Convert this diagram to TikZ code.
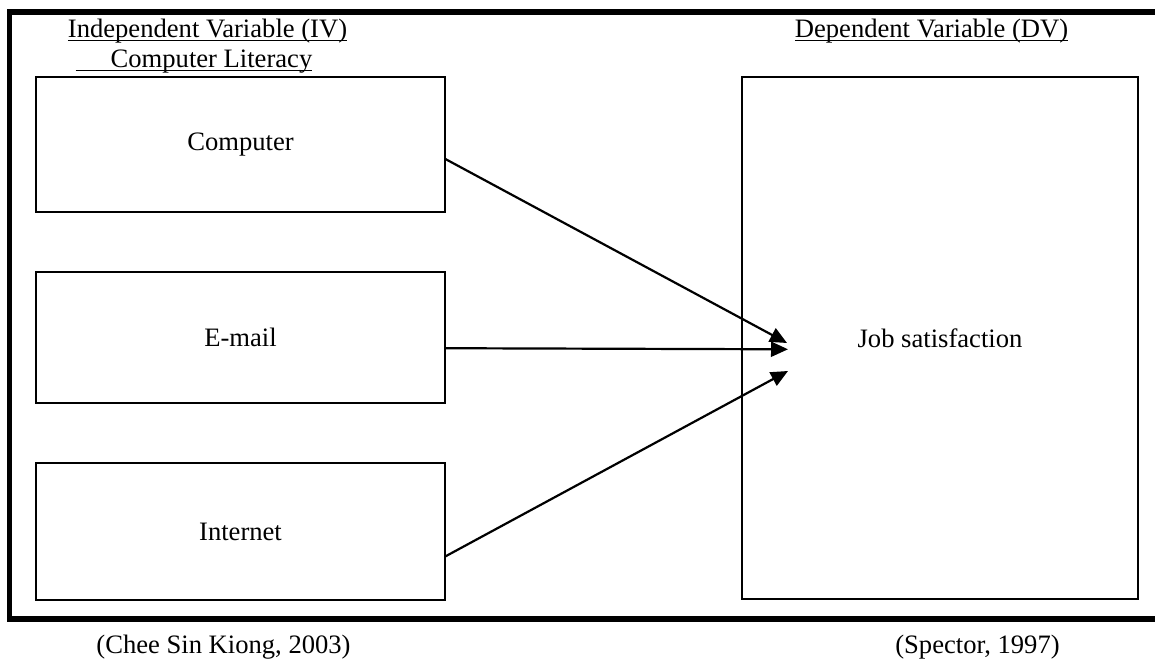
\documentclass[tikz,border=0pt]{standalone}
\usepackage{fontspec}
\setmainfont{Liberation Serif}
\usetikzlibrary{positioning,arrows.meta}

\newcommand{\ulabel}[1]{\underline{\smash{#1}}}

\tikzset{
  varbox/.style={draw, line width=0.9pt, minimum width=204.5pt, outer sep=0pt, inner sep=0pt},
  link/.style={line width=1.1pt, -{Triangle[length=8.5pt,width=7.5pt]}},
}

\begin{document}
\begin{tikzpicture}[x=0.5pt, y=-0.5pt, node distance=30pt, font=\fontsize{13.3}{16}\selectfont]
  \useasboundingbox (0,0) rectangle (1155,662);
  % outer frame, open to the right
  \draw[line width=2.6pt] (1175,12) -- (9.5,12) -- (9.5,619) -- (1175,619);

  % independent variables
  \node[varbox, minimum height=67.5pt] (comp) at (240.5,144.5) {Computer};
  \node[varbox, minimum height=65.5pt, below=of comp] (email) {E-mail};
  \node[varbox, minimum height=68.5pt, below=of email] (inet) {Internet};

  % dependent variable
  \node[varbox, minimum width=198pt, minimum height=261pt,
        below right=0pt and 148.5pt of comp.north east] (job) {Job satisfaction};

  % headings and sources
  \node[anchor=base] (ivlbl) at (207.5,38) {\ulabel{Independent Variable (IV)}};
  \node[anchor=base] (cllbl) at (194,68) {\ulabel{\hspace{17.5pt}Computer Literacy}};
  \node[anchor=base] (dvlbl) at (931.5,38) {\ulabel{Dependent Variable (DV)}};
  \node[anchor=base] (ivsrc) at (223.5,653) {(Chee Sin Kiong, 2003)};
  \node[anchor=base] (dvsrc) at (977.5,653) {(Spector, 1997)};

  % arrows
  \coordinate (tip1) at (787,343);
  \coordinate (tip2) at (788,349.3);
  \coordinate (tip3) at (788,371);
  \draw[link] (comp.-4.3) -- (tip1);
  \draw[link] (email.-3.3) -- (tip2);
  \draw[link] (inet.-7.9) -- (tip3);
\end{tikzpicture}
\end{document}
